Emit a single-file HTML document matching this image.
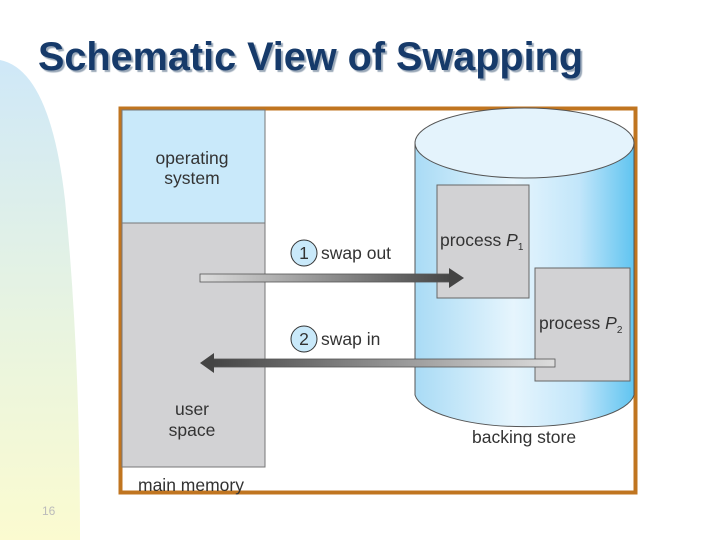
<!DOCTYPE html>
<html><head><style>
body{margin:0;width:720px;height:540px;background:#fff;position:relative;overflow:hidden;font-family:"Liberation Sans",sans-serif;}
.t{position:absolute;left:38px;top:35px;font-size:40px;font-weight:bold;color:#163a6a;text-shadow:2px 2px 1px #9aa8b8;letter-spacing:0px;white-space:nowrap;transform:scaleX(0.99);transform-origin:0 0;}
</style></head><body>
<svg width="720" height="540" style="position:absolute;left:0;top:0">
<defs>
<linearGradient id="lg" x1="0" y1="0" x2="0" y2="1"><stop offset="0" stop-color="#cfe8f8"/><stop offset="0.55" stop-color="#e8f4e0"/><stop offset="1" stop-color="#fbfbd0"/></linearGradient>
<linearGradient id="cy" x1="0" y1="0" x2="1" y2="0"><stop offset="0" stop-color="#a9dbf5"/><stop offset="0.45" stop-color="#e6f5fd"/><stop offset="0.75" stop-color="#c2e6fa"/><stop offset="1" stop-color="#60c4f0"/></linearGradient>
<linearGradient id="a1" x1="0" y1="0" x2="1" y2="0"><stop offset="0" stop-color="#ddd"/><stop offset="1" stop-color="#444"/></linearGradient>
<linearGradient id="a2" x1="0" y1="0" x2="1" y2="0"><stop offset="0" stop-color="#444"/><stop offset="1" stop-color="#ddd"/></linearGradient>
</defs>
<path d="M0 60 Q50 70 65 200 Q80 350 80 540 L0 540 Z" fill="url(#lg)"/>
<rect x="120.5" y="108.5" width="515" height="384" fill="#fff" stroke="#c07520" stroke-width="4"/>
<rect x="122" y="110" width="143" height="113" fill="#c9e9fa" stroke="#777" stroke-width="1"/>
<rect x="122" y="223" width="143" height="244" fill="#d2d2d4" stroke="#777" stroke-width="1"/>
<path d="M415 143 L415 395 A110 35 0 0 0 634 395 L634 143 Z" fill="url(#cy)" stroke="#555"/>
<ellipse cx="524.5" cy="143" rx="109.5" ry="35" fill="#e4f3fc" stroke="#555"/>
<rect x="437" y="185" width="92" height="113" fill="#d2d2d4" stroke="#666"/>
<rect x="535" y="268" width="95" height="113" fill="#d2d2d4" stroke="#666"/>
<rect x="200" y="274" width="252" height="8" fill="url(#a1)" stroke="#555" stroke-width="0.8"/>
<polygon points="449,268 464,278 449,288" fill="#444"/>
<rect x="212" y="359" width="343" height="8" fill="url(#a2)" stroke="#555" stroke-width="0.8"/>
<polygon points="214,353 200,363 214,373" fill="#444"/>
<circle cx="304" cy="253" r="13" fill="#c9e9fa" stroke="#333"/>
<circle cx="304" cy="339" r="13" fill="#c9e9fa" stroke="#333"/>
<g font-size="17.5" fill="#333" font-family="Liberation Sans,sans-serif">
<text x="192" y="164" text-anchor="middle">operating</text>
<text x="192" y="184" text-anchor="middle">system</text>
<text x="192" y="415" text-anchor="middle">user</text>
<text x="192" y="436" text-anchor="middle">space</text>
<text x="138" y="491">main memory</text>
<text x="304" y="259" text-anchor="middle">1</text>
<text x="304" y="345" text-anchor="middle">2</text>
<text x="321" y="259">swap out</text>
<text x="321" y="345">swap in</text>
<text x="440" y="246">process <tspan font-style="italic">P</tspan><tspan font-size="10" dy="4">1</tspan></text>
<text x="539" y="329">process <tspan font-style="italic">P</tspan><tspan font-size="10" dy="4">2</tspan></text>
<text x="472" y="443">backing store</text>
</g>
<text x="42" y="515" font-size="12" fill="#bbb">16</text>
</svg>
<div class="t">Schematic View of Swapping</div>
</body></html>
